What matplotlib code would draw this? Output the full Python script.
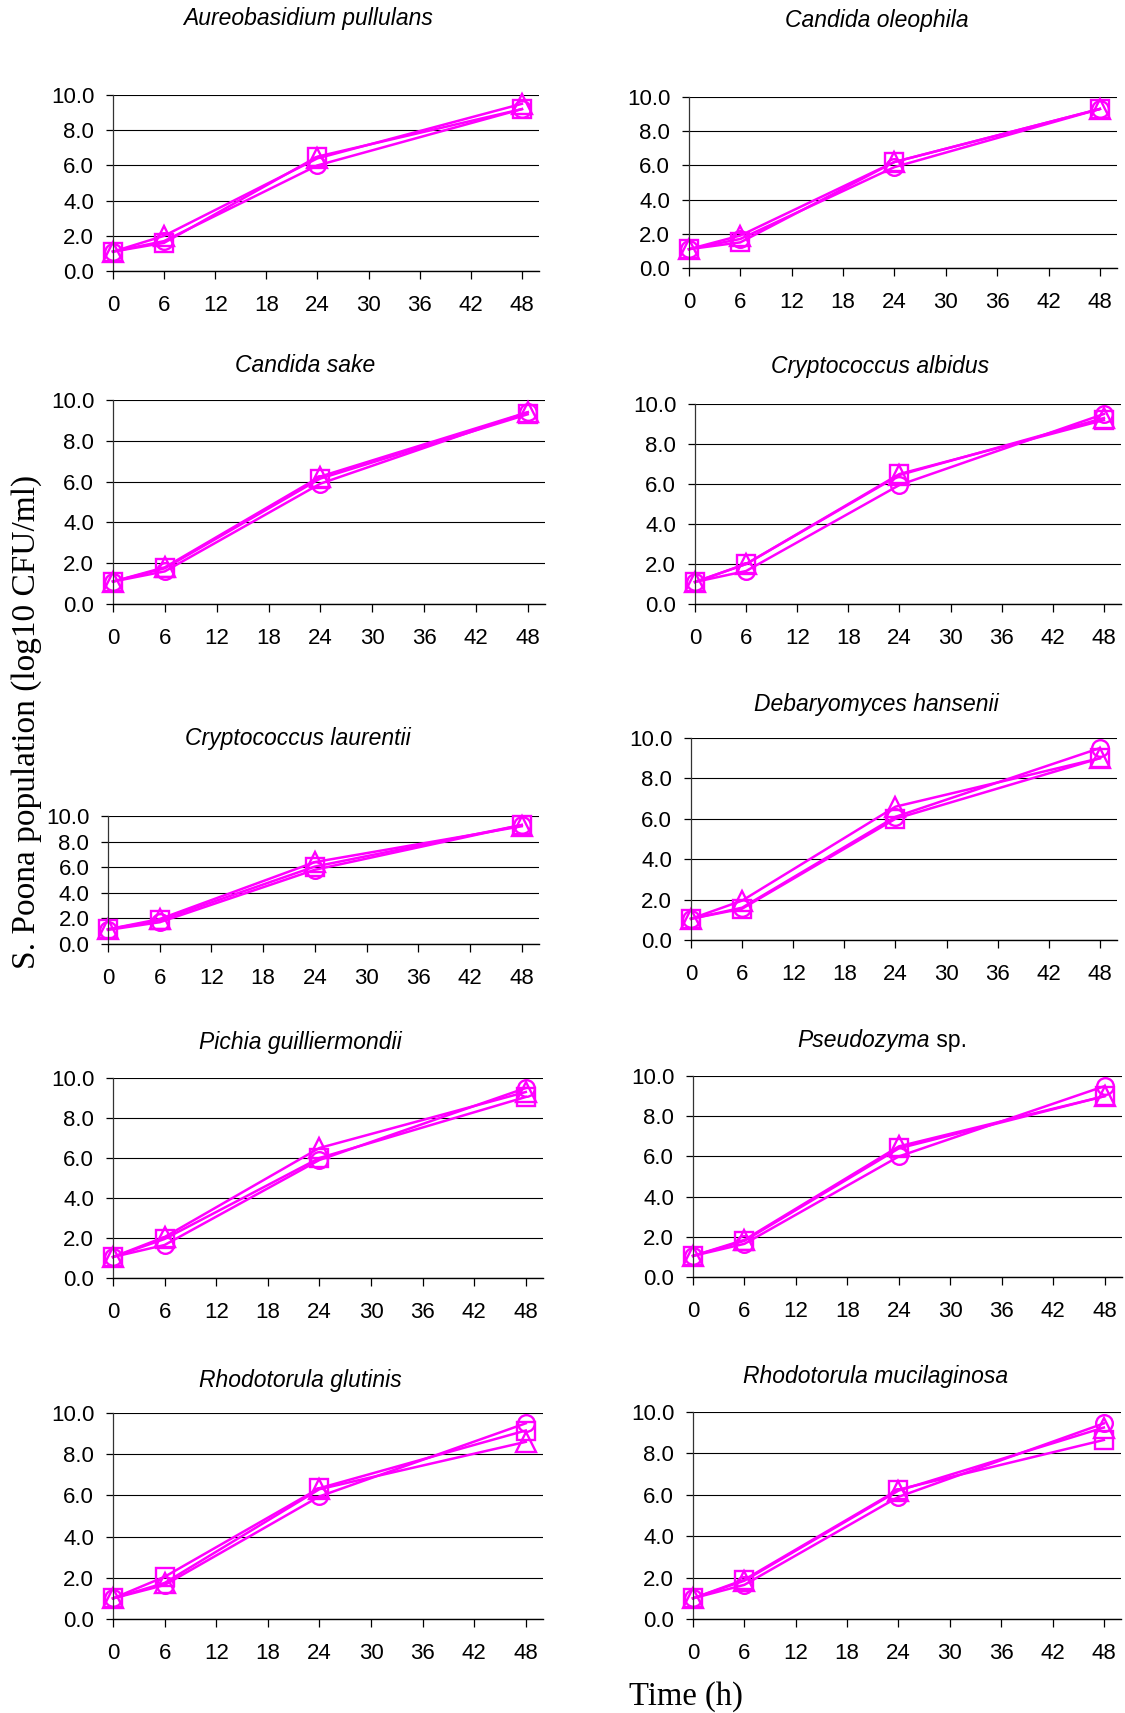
import matplotlib
matplotlib.use("Agg")
import matplotlib.pyplot as plt

hours = [0, 6, 24, 48]
species = [
    "Aureobasidium pullulans", "Candida oleophila",
    "Candida sake", "Cryptococcus albidus",
    "Cryptococcus laurentii", "Debaryomyces hansenii",
    "Pichia guilliermondii", "Pseudozyma sp.",
    "Rhodotorula glutinis", "Rhodotorula mucilaginosa",
]

# S. Poona counts (log10 CFU/ml), one row per yeast
circle_vals = [
    [1.1, 1.7, 6.0, 9.2],
    [1.1, 1.7, 5.9, 9.3],
    [1.1, 1.6, 5.9, 9.4],
    [1.1, 1.65, 5.95, 9.5],
    [1.1, 1.7, 5.8, 9.3],
    [1.05, 1.6, 6.1, 9.5],
    [1.05, 1.65, 5.9, 9.5],
    [1.05, 1.65, 6.0, 9.5],
    [1.0, 1.65, 5.95, 9.5],
    [1.0, 1.65, 5.9, 9.45],
]
square_vals = [
    [1.1, 1.6, 6.5, 9.2],
    [1.1, 1.5, 6.2, 9.3],
    [1.1, 1.75, 6.15, 9.3],
    [1.1, 2.0, 6.5, 9.2],
    [1.15, 1.85, 6.05, 9.3],
    [1.05, 1.55, 6.0, 9.0],
    [1.05, 1.95, 6.0, 9.05],
    [1.05, 1.8, 6.4, 9.0],
    [1.0, 2.05, 6.35, 9.15],
    [1.0, 1.9, 6.25, 8.65],
]
triangle_vals = [
    [1.1, 2.0, 6.4, 9.5],
    [1.1, 1.9, 6.2, 9.3],
    [1.1, 1.8, 6.25, 9.4],
    [1.1, 2.0, 6.45, 9.3],
    [1.15, 1.95, 6.4, 9.2],
    [1.05, 1.95, 6.6, 9.0],
    [1.05, 2.05, 6.5, 9.3],
    [1.05, 1.85, 6.5, 9.0],
    [1.0, 1.75, 6.3, 8.6],
    [1.0, 1.85, 6.2, 9.25],
]

# panel boxes in pixels: left, right, top, bottom ; title centre x, y
W, H = 1125, 1713
boxes = [
    (113, 539, 95, 271, 308, 18), (689, 1117, 97, 268, 877, 20),
    (113, 545, 400, 604, 305, 365), (695, 1121, 404, 604, 880, 366),
    (108, 539, 816, 944, 298, 739), (691, 1117, 738, 940, 876, 704),
    (113, 543, 1078, 1278, 300, 1042), (693, 1122, 1076, 1277, 882, 1041),
    (113, 543, 1413, 1619, 300, 1381), (693, 1121, 1412, 1619, 876, 1377),
]

pink = "#ff00ff"
fig = plt.figure(figsize=(W / 100, H / 100), dpi=100)
renderer = fig.canvas.get_renderer()

for i, name in enumerate(species):
    l, r, t, b, tx, ty = boxes[i]
    ax = fig.add_axes([l / W, 1 - b / H, (r - l) / W, (b - t) / H])
    ax.plot(hours, circle_vals[i], color=pink, lw=1.8, marker="o", ms=12,
            mfc="none", mew=1.7, clip_on=False)
    ax.plot(hours, square_vals[i], color=pink, lw=1.8, marker="s", ms=13.5,
            mfc="none", mew=1.7, clip_on=False)
    ax.plot(hours, triangle_vals[i], color=pink, lw=1.8, marker="^", ms=14,
            mfc="none", mew=1.7, clip_on=False)
    ax.set_xlim(0, 50)
    ax.set_ylim(0, 10)
    ax.set_xticks(range(0, 49, 6))
    ax.set_yticks([0, 2, 4, 6, 8, 10])
    ax.set_yticklabels(["%.1f" % v for v in [0, 2, 4, 6, 8, 10]])
    ax.yaxis.grid(True, color="black", lw=0.8)
    ax.set_axisbelow(True)
    for s in ["top", "right"]:
        ax.spines[s].set_visible(False)
    ax.spines["left"].set_color("#333333")
    ax.spines["left"].set_linewidth(0.9)
    ax.spines["bottom"].set_linewidth(1.0)
    ax.tick_params(axis="x", length=6, width=0.9, pad=11, labelsize=16)
    ax.tick_params(axis="y", length=5, width=0.9, pad=8.5, labelsize=16)
    for lab in ax.get_xticklabels() + ax.get_yticklabels():
        lab.set_fontfamily("Liberation Sans")

    # genus/species italic, "sp." upright
    if name.endswith(" sp."):
        italic_part, plain_part = name[:-4], " sp."
    else:
        italic_part, plain_part = name, ""
    t1 = fig.text(0, 1 - ty / H, italic_part, ha="left", va="center",
                  fontsize=16.5, style="italic", family="Liberation Sans")
    t2 = fig.text(0, 1 - ty / H, plain_part, ha="left", va="center",
                  fontsize=16.5, family="Liberation Sans")
    w1 = t1.get_window_extent(renderer).width
    w2 = t2.get_window_extent(renderer).width if plain_part else 0
    x0 = tx - (w1 + w2) / 2
    t1.set_x(x0 / W)
    t2.set_x((x0 + w1) / W)

fig.text(27 / W, 1 - 722 / H, "S. Poona population (log10 CFU/ml)",
         rotation=90, ha="center", va="center", fontsize=24,
         family="Liberation Serif")
fig.text(686 / W, 1 - 1697 / H, "Time (h)", ha="center", va="center",
         fontsize=23.5, family="Liberation Serif")

fig.savefig("out.png", dpi=100)
